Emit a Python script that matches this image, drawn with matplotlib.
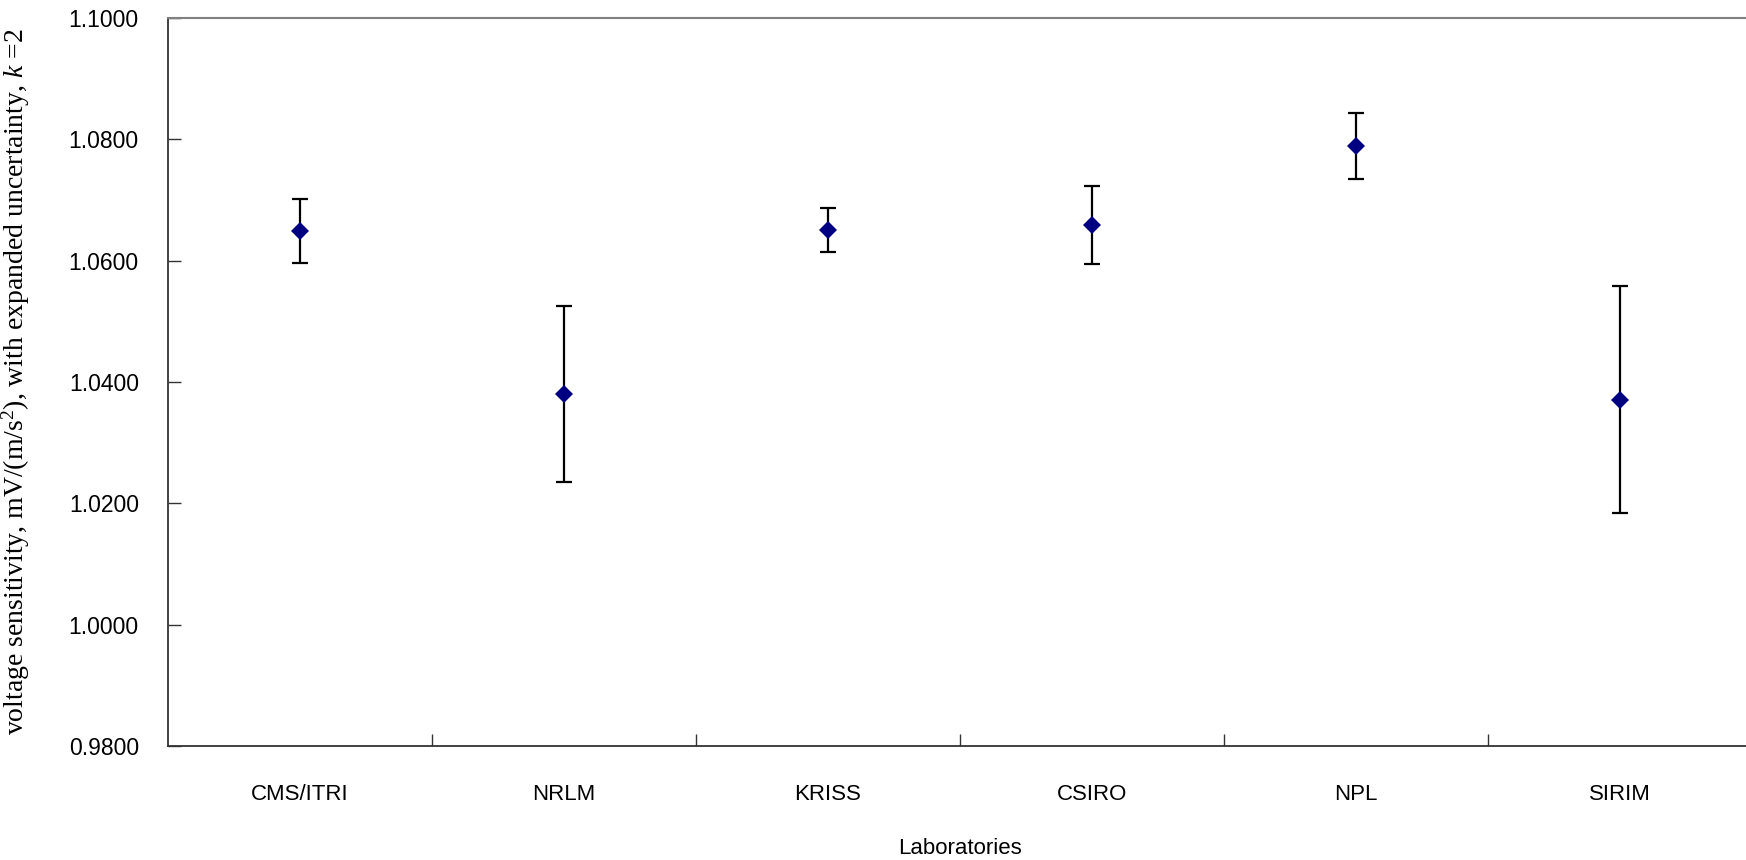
import numpy as np
import matplotlib
matplotlib.use('Agg')
from matplotlib import pyplot as plt
from matplotlib.ticker import FixedLocator, NullFormatter

plt.rcParams['mathtext.fontset'] = 'custom'
plt.rcParams['mathtext.rm'] = 'Liberation Serif'
plt.rcParams['mathtext.it'] = 'Liberation Serif:italic'

# values
labs = ['CMS/ITRI', 'NRLM', 'KRISS', 'CSIRO', 'NPL', 'SIRIM']
sens = [1.0649, 1.0380, 1.0650, 1.0659, 1.0789, 1.0371]
unc = [0.0053, 0.0145, 0.0036, 0.0064, 0.0054, 0.0187]
yticks = [0.98, 1.00, 1.02, 1.04, 1.06, 1.08, 1.10]

sans = 'Liberation Sans'

W, H = 1746, 860
fig = plt.figure(figsize=(W / 100, H / 100), dpi=100)
# plot area in pixels: left 168, right 1752 (runs past the edge), top 18, bottom 746
ax = fig.add_axes([168 / W, (H - 746) / H, (1752 - 168) / W, (746 - 18) / H])

x = np.arange(len(labs)) + 0.5
ax.errorbar(x, sens, yerr=unc, fmt='none', ecolor='black', elinewidth=1.6,
            capsize=5.8, capthick=1.6, zorder=2)
ax.plot(x, sens, 'D', color='#000080', markersize=9.5, markeredgewidth=0, zorder=3)

ax.set_xlim(0, len(labs))
ax.set_ylim(0.98, 1.10)
ax.set_yticks(yticks)
ax.set_yticklabels(['%.4f' % v for v in yticks], fontsize=16.5, family=sans)

ax.xaxis.set_major_locator(FixedLocator(np.arange(1, len(labs))))
ax.xaxis.set_major_formatter(NullFormatter())
ax.xaxis.set_minor_locator(FixedLocator(x))
ax.set_xticklabels(labs, minor=True, fontsize=16, family=sans)
ax.tick_params(axis='x', which='minor', length=0, pad=27)
ax.tick_params(axis='x', which='major', direction='in', length=9, width=1, color='#333333')
ax.tick_params(axis='y', direction='in', length=9, width=1, color='#333333', pad=21)

for s in ['left', 'bottom']:
    ax.spines[s].set_color('#333333')
    ax.spines[s].set_linewidth(1.3)
ax.spines['top'].set_color('#808080')
ax.spines['top'].set_linewidth(1.5)
ax.spines['right'].set_visible(False)

ax.set_xlabel('Laboratories', fontsize=16, family=sans, labelpad=24)
ax.set_ylabel(r'voltage sensitivity, mV/(m/s$^2$), with expanded uncertainty, $k$ =2',
              fontsize=20, family='Liberation Serif')
ax.yaxis.set_label_coords(-136 / (1752 - 168), 0.5)

fig.savefig('out.png', dpi=100)
